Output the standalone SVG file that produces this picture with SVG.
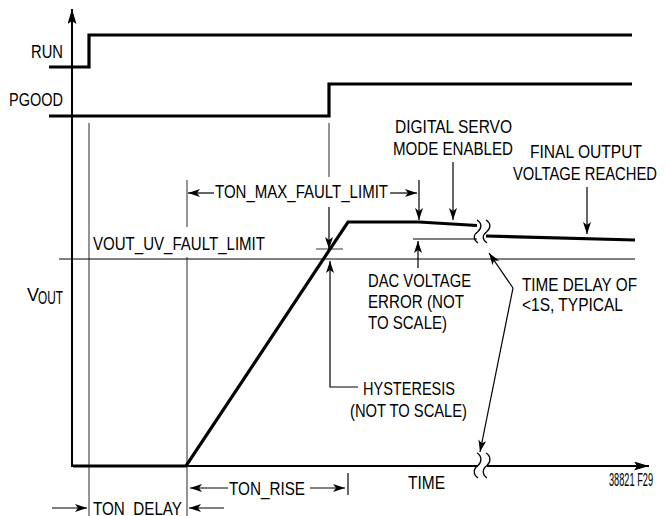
<svg xmlns="http://www.w3.org/2000/svg" width="668" height="516" viewBox="0 0 668 516">
<style>
text{font-family:"Liberation Sans Narrow","Liberation Sans",Arial,sans-serif;font-size:18px;fill:#000}
.sig{fill:none;stroke:#000;stroke-width:3.2;stroke-linejoin:miter}
.thin{fill:none;stroke:#000;stroke-width:1.2}
.grey{fill:none;stroke:#7a7a7a;stroke-width:1.6}
.ax{fill:none;stroke:#000;stroke-width:2}
.ld{fill:none;stroke:#000;stroke-width:1.2}
.brk{fill:none;stroke:#000;stroke-width:1.3}
</style>
<defs>
<marker id="ah" markerUnits="userSpaceOnUse" viewBox="0 0 12 8" refX="12" refY="4" markerWidth="12" markerHeight="8" orient="auto">
<path d="M0,0 L12,4 L0,8 L3,4 z" fill="#000"/>
</marker>
<marker id="axh" markerUnits="userSpaceOnUse" viewBox="0 0 15 9" refX="15" refY="4.5" markerWidth="15" markerHeight="9" orient="auto">
<path d="M0,0 L15,4.5 L0,9 L3,4.5 z" fill="#000"/>
</marker>
</defs>
<rect width="668" height="516" fill="#fff"/>

<g id="axes">
<line class="ax" x1="72" y1="467" x2="72" y2="9" marker-end="url(#axh)"/>
<line class="ax" x1="72" y1="466" x2="478" y2="466"/>
<line class="ax" x1="487" y1="466" x2="649" y2="466" marker-end="url(#axh)"/>
<path class="brk" d="M477,453 c5,3 5,9 1,12.5 c-5,3.5 -5,9 0,12.5"/>
<path class="brk" d="M486,453 c5,3 5,9 1,12.5 c-5,3.5 -5,9 0,12.5"/>
</g>

<g id="guides">
<line class="grey" x1="89" y1="123" x2="89" y2="516"/>
<line class="grey" x1="187" y1="180" x2="187" y2="227"/>
<line class="grey" x1="187" y1="257" x2="187" y2="516"/>
<line class="grey" x1="329" y1="123" x2="329" y2="177"/>
<line class="thin" x1="59" y1="259" x2="635" y2="259"/>
<line class="thin" x1="413" y1="239" x2="477" y2="239"/>
<line stroke="#555" stroke-width="1.2" x1="316" y1="249" x2="343" y2="249"/>
</g>

<g id="signal-run">
<polyline class="sig" points="49,67 89,67 89,35 632,35"/>
</g>
<g id="signal-pgood">
<polyline class="sig" points="49,116 329,116 329,84 632,84"/>
</g>
<g id="signal-vout">
<polyline class="sig" points="73,466 186,466 348,222 419,222 477,225.5"/>
<line class="sig" x1="486" y1="236" x2="635" y2="240"/>
<path class="brk" d="M477,220 c5,3 5,8 1,11.5 c-5,3.5 -5,8 0,11.5"/>
<path class="brk" d="M486,220 c5,3 5,8 1,11.5 c-5,3.5 -5,8 0,11.5"/>
</g>

<g id="connectors">
<line class="ld" x1="214" y1="193" x2="188" y2="193" marker-end="url(#ah)"/>
<line class="ld" x1="390" y1="193" x2="417" y2="193" marker-end="url(#ah)"/>
<line class="ld" x1="419" y1="180" x2="419" y2="220" marker-end="url(#ah)"/>
<line class="ld" x1="329" y1="207" x2="329" y2="249" marker-end="url(#ah)"/>
<line class="ld" x1="453" y1="162" x2="453" y2="220" marker-end="url(#ah)"/>
<line class="ld" x1="587" y1="187" x2="587" y2="234" marker-end="url(#ah)"/>
<line class="ld" x1="418" y1="268" x2="418" y2="241" marker-end="url(#ah)"/>
<polyline class="ld" points="358,387 330,387 330,261" marker-end="url(#ah)"/>
<line class="ld" x1="513" y1="288" x2="489" y2="253" marker-end="url(#ah)"/>
<line class="ld" x1="513" y1="288" x2="480" y2="452" marker-end="url(#ah)"/>
<line class="ld" x1="228" y1="488" x2="190" y2="488" marker-end="url(#ah)"/>
<line class="ld" x1="310" y1="488" x2="345" y2="488" marker-end="url(#ah)"/>
<line class="ld" x1="348" y1="473" x2="348" y2="495"/>
<line class="ld" x1="52" y1="508" x2="87" y2="508" marker-end="url(#ah)"/>
<line class="ld" x1="224" y1="508" x2="189" y2="508" marker-end="url(#ah)"/>
</g>

<g id="label-run"><text x="31" y="58" textLength="32" lengthAdjust="spacingAndGlyphs">RUN</text></g>
<g id="label-pgood"><text x="9" y="106" textLength="54" lengthAdjust="spacingAndGlyphs">PGOOD</text></g>
<g id="label-servo">
<text x="395" y="133" textLength="117" lengthAdjust="spacingAndGlyphs">DIGITAL SERVO</text>
<text x="393" y="155" textLength="120" lengthAdjust="spacingAndGlyphs">MODE ENABLED</text>
</g>
<g id="label-final">
<text x="530" y="158" textLength="112" lengthAdjust="spacingAndGlyphs">FINAL OUTPUT</text>
<text x="513" y="180" textLength="144" lengthAdjust="spacingAndGlyphs">VOLTAGE REACHED</text>
</g>
<g id="label-tonmax"><text x="215" y="198" textLength="173" lengthAdjust="spacingAndGlyphs">TON_MAX_FAULT_LIMIT</text></g>
<g id="label-vout-uv"><text x="93" y="250" font-size="17" textLength="172" lengthAdjust="spacingAndGlyphs">VOUT_UV_FAULT_LIMIT</text></g>
<g id="label-vout">
<text x="27" y="301">V</text>
<text x="38" y="304" font-size="14" textLength="25" lengthAdjust="spacingAndGlyphs">OUT</text>
</g>
<g id="label-dac">
<text x="368" y="287" textLength="103" lengthAdjust="spacingAndGlyphs">DAC VOLTAGE</text>
<text x="368" y="308" textLength="96" lengthAdjust="spacingAndGlyphs">ERROR (NOT</text>
<text x="368" y="329" textLength="79" lengthAdjust="spacingAndGlyphs">TO SCALE)</text>
</g>
<g id="label-delay">
<text x="522" y="291" textLength="115" lengthAdjust="spacingAndGlyphs">TIME DELAY OF</text>
<text x="522" y="311" textLength="101" lengthAdjust="spacingAndGlyphs">&lt;1S, TYPICAL</text>
</g>
<g id="label-hyst">
<text x="363" y="395" textLength="92" lengthAdjust="spacingAndGlyphs">HYSTERESIS</text>
<text x="350" y="417" textLength="117" lengthAdjust="spacingAndGlyphs">(NOT TO SCALE)</text>
</g>
<g id="label-time"><text x="408" y="489" textLength="37" lengthAdjust="spacingAndGlyphs">TIME</text></g>
<g id="label-fig"><text x="609" y="486" font-size="10" textLength="44" lengthAdjust="spacingAndGlyphs">38821 F29</text></g>
<g id="label-tonrise"><text x="229" y="495" textLength="76" lengthAdjust="spacingAndGlyphs">TON_RISE</text></g>
<g id="label-tondelay"><text x="93" y="515" textLength="89" lengthAdjust="spacingAndGlyphs">TON_DELAY</text></g>
</svg>
